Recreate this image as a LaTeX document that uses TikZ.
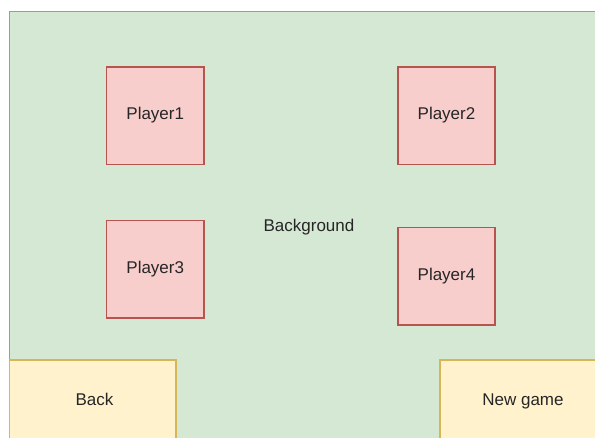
\documentclass[tikz,border=0pt]{standalone}
\usepackage{fontspec}
\setmainfont{Liberation Sans}
\definecolor{bgfill}{HTML}{D5E8D4}
\definecolor{bgline}{HTML}{82B366}
\definecolor{plfill}{HTML}{F8CECC}
\definecolor{plline}{HTML}{B85450}
\definecolor{btfill}{HTML}{FFF2CC}
\definecolor{btline}{HTML}{D6B656}
\tikzset{
  txt/.style={font=\fontsize{17}{20}\selectfont, text=black!85, text height=0.72em, text depth=0.21em, inner sep=0pt},
  playerbox/.style={draw=plline, fill=plfill, line width=1.2pt},
  buttonbox/.style={draw=btline, fill=btfill, line width=1.2pt},
  bgbox/.style={draw=bgline, fill=bgfill, line width=1.2pt}
}
\begin{document}
\begin{tikzpicture}[x=1pt,y=-1pt]
\useasboundingbox (0,0) rectangle (595,437);
\fill[white] (0,0) rectangle (595,437);
\draw[bgbox] (9.5,11.5) rectangle (600,445);
\node[txt] (bg) at (309,228.5) {Background};
\draw[playerbox] (106.5,67) rectangle (204,164.5);
\node[txt] (p1) at (155.25,117) {Player1};
\draw[playerbox] (398,67) rectangle (495,164.5);
\node[txt] (p2) at (446.5,117) {Player2};
\draw[playerbox] (106.5,220.5) rectangle (204,318);
\node[txt] (p3) at (155.25,270.5) {Player3};
\draw[playerbox] (398,227.5) rectangle (495,325);
\node[txt] (p4) at (446.5,277.5) {Player4};
\draw[buttonbox] (9.5,360) rectangle (176,445);
\node[txt] (back) at (94.5,403) {Back};
\draw[buttonbox] (440,360) rectangle (600,445);
\node[txt] (newgame) at (523,403) {New game};
\end{tikzpicture}
\end{document}
